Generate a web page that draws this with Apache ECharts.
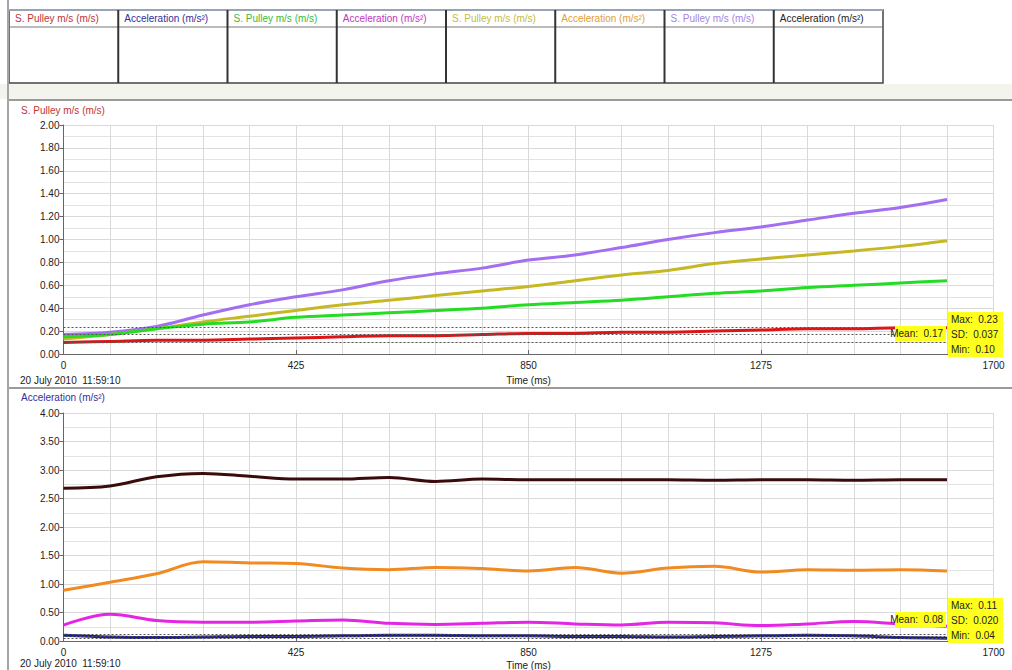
<!DOCTYPE html>
<html>
<head>
<meta charset="utf-8">
<title>S. Pulley / Acceleration</title>
<script src="https://cdn.jsdelivr.net/npm/echarts@6/dist/echarts.min.js"></script>
<style>
  html, body { margin: 0; padding: 0; background: #fff; }
  #chart { width: 1012px; height: 670px; }
</style>
</head>
<body>
<div id="chart"></div>
<script>
// ---- data ----
const timeMs = [0, 85, 170, 255, 340, 425, 510, 595, 680, 765, 850, 935, 1020, 1105, 1190, 1275, 1360, 1445, 1530, 1615];

// top panel: S. Pulley m/s
const pulleyRed    = [0.10, 0.11, 0.12, 0.12, 0.13, 0.14, 0.15, 0.16, 0.16, 0.17, 0.18, 0.18, 0.19, 0.19, 0.20, 0.21, 0.22, 0.22, 0.23, 0.23];
const pulleyGreen  = [0.15, 0.17, 0.22, 0.26, 0.28, 0.32, 0.34, 0.36, 0.38, 0.40, 0.43, 0.45, 0.47, 0.50, 0.53, 0.55, 0.58, 0.60, 0.62, 0.64];
const pulleyOlive  = [0.13, 0.17, 0.22, 0.28, 0.33, 0.38, 0.43, 0.47, 0.51, 0.55, 0.59, 0.64, 0.69, 0.73, 0.79, 0.83, 0.865, 0.90, 0.94, 0.99];
const pulleyPurple = [0.17, 0.19, 0.24, 0.34, 0.43, 0.50, 0.56, 0.64, 0.70, 0.75, 0.82, 0.865, 0.93, 1.00, 1.06, 1.11, 1.17, 1.23, 1.28, 1.35];

// bottom panel: Acceleration
const accelNavy    = [0.10, 0.07, 0.06, 0.07, 0.08, 0.08, 0.09, 0.10, 0.10, 0.09, 0.09, 0.08, 0.08, 0.07, 0.08, 0.09, 0.10, 0.09, 0.06, 0.05];
const accelMagenta = [0.28, 0.47, 0.36, 0.33, 0.33, 0.35, 0.37, 0.31, 0.29, 0.31, 0.33, 0.30, 0.28, 0.33, 0.32, 0.27, 0.30, 0.34, 0.30, 0.26];
const accelOrange  = [0.89, 1.03, 1.18, 1.39, 1.37, 1.36, 1.28, 1.25, 1.29, 1.27, 1.23, 1.29, 1.19, 1.28, 1.31, 1.21, 1.25, 1.24, 1.25, 1.23];
const accelBrown   = [2.68, 2.72, 2.88, 2.94, 2.89, 2.84, 2.84, 2.87, 2.80, 2.84, 2.83, 2.83, 2.83, 2.83, 2.82, 2.83, 2.83, 2.82, 2.83, 2.83];

// statistics shown in the yellow boxes [max, mean, min, sd]
const statsPulley = [0.23, 0.17, 0.10, 0.037];
const statsAccel  = [0.11, 0.08, 0.04, 0.020];

// header table
const headerLabels = ["S. Pulley m/s (m/s)", "Acceleration (m/s²)", "S. Pulley m/s (m/s)", "Acceleration (m/s²)",
                      "S. Pulley m/s (m/s)", "Acceleration (m/s²)", "S. Pulley m/s (m/s)", "Acceleration (m/s²)"];
const headerColors = ["#c03535", "#30309a", "#3cba3c", "#c236c2", "#c4bc40", "#e0a035", "#a386e0", "#222222"];

const xTicks = [0, 425, 850, 1275, 1700];

// ---- chart ----
const FONT = "Liberation Sans, Arial, sans-serif";
const chart = echarts.init(document.getElementById("chart"), null, { renderer: "svg" });

const pairs = (arr) => timeMs.map((t, i) => [t, arr[i]]);
const lastT = timeMs[timeMs.length - 1];

function xAxis(gridIndex, nameGap) {
  return {
    type: "value", gridIndex, min: xTicks[0], max: xTicks[xTicks.length - 1], interval: xTicks[1] - xTicks[0],
    name: "Time (ms)", nameLocation: "middle", nameGap,
    nameTextStyle: { color: "#222", fontSize: 10, fontFamily: FONT },
    axisLine: { show: true, onZero: false, lineStyle: { color: "#666", width: 1 } },
    axisTick: { show: true, inside: true, length: 4, lineStyle: { color: "#666" } },
    axisLabel: { color: "#222", fontSize: 10, fontFamily: FONT, margin: 6, formatter: (v) => String(v) },
    splitLine: { show: true, lineStyle: { color: "#d9d9d9", width: 1 } },
    minorTick: { show: false, splitNumber: 5 },
    minorSplitLine: { show: true, lineStyle: { color: "#d9d9d9", width: 1 } }
  };
}

function yAxis(gridIndex, max, interval) {
  return {
    type: "value", gridIndex, min: 0, max, interval,
    axisLine: { show: true, lineStyle: { color: "#666", width: 1 } },
    axisTick: { show: true, length: 4, lineStyle: { color: "#666" } },
    axisLabel: { color: "#222", fontSize: 10, fontFamily: FONT, margin: 4, formatter: (v) => v.toFixed(2) },
    splitLine: { show: true, lineStyle: { color: "#d9d9d9", width: 1 } },
    minorTick: { show: false, splitNumber: 2 },
    minorSplitLine: { show: true, lineStyle: { color: "#e3e3e3", width: 1 } }
  };
}

function line(name, arr, color, idx, extra) {
  return Object.assign({
    name, type: "line", xAxisIndex: idx, yAxisIndex: idx,
    data: pairs(arr), showSymbol: false, smooth: 0.35,
    lineStyle: { color, width: 3 }, itemStyle: { color },
    animation: false, silent: true
  }, extra || {});
}

const boxStyle = {
  show: true, backgroundColor: "#ffff1e", color: "#222", fontSize: 10, fontFamily: FONT,
  padding: [2, 3], lineHeight: 11, distance: 1
};

function statMarks(stats, dy) {
  const [mx, mean, mn, sd] = stats;
  return {
    markLine: {
      silent: true, symbol: "none", animation: false,
      lineStyle: { color: "#555", type: [2, 2], width: 1 },
      label: { show: false },
      data: [mx, mean, mn].map((v) => [{ coord: [0, v] }, { coord: [lastT, v] }])
    },
    markPoint: {
      silent: true, symbol: "circle", symbolSize: 0, animation: false,
      data: [
        { coord: [lastT, mean], label: Object.assign({}, boxStyle, { position: "left", offset: [0, dy - 1], width: 45, formatter: "Mean:  " + mean.toFixed(2) }) },
        { coord: [lastT, mean], label: Object.assign({}, boxStyle, { position: "right", offset: [0, dy], width: 49, formatter: "SD:  " + sd.toFixed(3) }) },
        { coord: [lastT, mean], label: Object.assign({}, boxStyle, { position: "right", offset: [0, dy - 15], width: 49, formatter: "Max:  " + mx.toFixed(2) }) },
        { coord: [lastT, mean], label: Object.assign({}, boxStyle, { position: "right", offset: [0, dy + 15], width: 49, formatter: "Min:  " + mn.toFixed(2) }) }
      ]
    }
  };
}

// header table + frame drawn as graphic elements
const graphic = [];
const tblLeft = 9, tblRight = 883, tblTop = 10, tblHead = 27, tblBottom = 83;
const colW = (tblRight - tblLeft) / headerLabels.length;
graphic.push({ type: "rect", shape: { x: 0, y: 84, width: 1012, height: 15 }, style: { fill: "#f4f4ef" }, silent: true });
graphic.push({ type: "rect", shape: { x: tblLeft, y: tblTop, width: tblRight - tblLeft, height: tblBottom - tblTop },
  style: { fill: "#fff", stroke: "#444", lineWidth: 1.5 }, silent: true });
graphic.push({ type: "line", shape: { x1: tblLeft, y1: tblTop, x2: tblRight, y2: tblTop }, style: { stroke: "#9aa3b5", lineWidth: 2 }, silent: true });
graphic.push({ type: "line", shape: { x1: tblLeft, y1: tblHead, x2: tblRight, y2: tblHead }, style: { stroke: "#777", lineWidth: 1 }, silent: true });
headerLabels.forEach((lab, i) => {
  const x0 = tblLeft + i * colW;
  if (i > 0) {
    graphic.push({ type: "line", shape: { x1: x0, y1: tblTop, x2: x0, y2: tblBottom }, style: { stroke: "#333", lineWidth: 2 }, silent: true });
  }
  graphic.push({ type: "text", x: x0 + 6, y: 18.5, silent: true,
    style: { text: lab, fill: headerColors[i], fontSize: 10, fontFamily: FONT, verticalAlign: "middle" } });
});
// panel frame
graphic.push({ type: "line", shape: { x1: 8, y1: 100, x2: 1012, y2: 100 }, style: { stroke: "#9a9a9a", lineWidth: 2 }, silent: true });
graphic.push({ type: "line", shape: { x1: 8, y1: 388, x2: 1012, y2: 388 }, style: { stroke: "#9a9a9a", lineWidth: 2 }, silent: true });
graphic.push({ type: "line", shape: { x1: 8, y1: 0, x2: 8, y2: 670 }, style: { stroke: "#a5a5a5", lineWidth: 2 }, silent: true });
// panel titles and timestamps
graphic.push({ type: "text", x: 21, y: 110, silent: true,
  style: { text: "S. Pulley m/s (m/s)", fill: "#c03535", fontSize: 10, fontFamily: FONT, verticalAlign: "middle" } });
graphic.push({ type: "text", x: 21, y: 397, silent: true,
  style: { text: "Acceleration (m/s²)", fill: "#30309a", fontSize: 10, fontFamily: FONT, verticalAlign: "middle" } });
graphic.push({ type: "text", x: 20, y: 380, silent: true,
  style: { text: "20 July 2010  11:59:10", fill: "#222", fontSize: 10, fontFamily: FONT, verticalAlign: "middle" } });
graphic.push({ type: "text", x: 20, y: 663, silent: true,
  style: { text: "20 July 2010  11:59:10", fill: "#222", fontSize: 10, fontFamily: FONT, verticalAlign: "middle" } });

chart.setOption({
  backgroundColor: "#fff",
  animation: false,
  textStyle: { fontFamily: FONT },
  grid: [
    { left: 63.5, right: 18.5, top: 125, height: 229, outerBoundsMode: "none", containLabel: false },
    { left: 63.5, right: 18.5, top: 413, height: 228, outerBoundsMode: "none", containLabel: false }
  ],
  xAxis: [xAxis(0, 21), xAxis(1, 19)],
  yAxis: [yAxis(0, 2, 0.2), yAxis(1, 4, 0.5)],
  graphic,
  series: [
    line("S. Pulley 4", pulleyPurple, "#a36ff0", 0),
    line("S. Pulley 3", pulleyOlive, "#c6b824", 0),
    line("S. Pulley 2", pulleyGreen, "#25dc25", 0),
    line("S. Pulley 1", pulleyRed, "#dc1616", 0, statMarks(statsPulley, 0)),
    line("Acceleration 4", accelBrown, "#3a0b0b", 1),
    line("Acceleration 3", accelOrange, "#f28a22", 1),
    line("Acceleration 2", accelMagenta, "#e426e4", 1),
    line("Acceleration 1", accelNavy, "#1b1b9c", 1, statMarks(statsAccel, -16))
  ]
});

window.addEventListener("resize", () => chart.resize());
</script>
</body>
</html>
